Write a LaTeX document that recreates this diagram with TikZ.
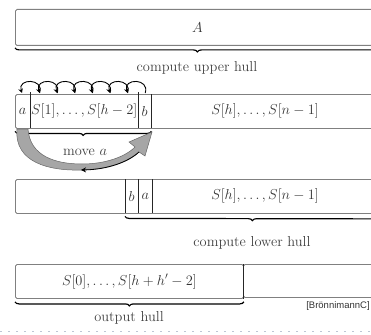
\documentclass[tikz,border=0pt]{standalone}
\usepackage{fontspec}
\newfontfamily\arialfont{Liberation Sans}
\usetikzlibrary{decorations.pathreplacing,arrows.meta}
\definecolor{dotgray}{RGB}{190,198,212}
\begin{document}
\begin{tikzpicture}[x=1pt,y=-1pt,
  box/.style={draw=black!50, line width=0.9pt, rounded corners=1.5pt, inner sep=0pt, anchor=north west, text=black!80},
  cell/.style={inner sep=0pt, anchor=north west, text=black!80},
  divider/.style={draw=black!85, line width=0.9pt},
  hullbrace/.style={decorate, decoration={brace, amplitude=4pt}, draw=black, line width=1.2pt},
  lbl/.style={text=black!75},
  shiftloop/.style={draw=black, line width=0.9pt, -{Stealth[length=4.5pt,width=4.5pt]}},
  font=\fontsize{14.4}{17}\selectfont]
\useasboundingbox (0,0) rectangle (371,334);
\clip (0,0) rectangle (371,334);

% box 1
\node[box, minimum width=364pt, minimum height=36pt] (A) at (15,9) {$A$};
\draw[hullbrace] ([yshift=-2pt]A.south east) -- ([yshift=-2pt]A.south west);
\node[lbl] (upper) at (197,68) {compute upper hull};

% box 2
\node[box, minimum width=364pt, minimum height=34pt] (B) at (15,94) {};
\node[cell, minimum width=15pt, minimum height=34pt] (ca) at (15,94) {$a$};
\node[cell, minimum width=108pt, minimum height=34pt] (cs) at (30,94) {$S[1],\ldots,S[h-2]$};
\node[cell, minimum width=13pt, minimum height=34pt] (cb) at (138,94) {$b$};
\node[cell, anchor=center] (srest) at (265,111) {$S[h],\ldots,S[n-1]$};
\draw[divider] ([yshift=2pt]ca.north east) -- (ca.south east);
\draw[divider] ([yshift=2pt]cs.north east) -- (cs.south east);
\draw[divider] (cb.north east) -- (cb.south east);
\draw[hullbrace] ([yshift=-3pt]cb.south east) -- ([yshift=-3pt]ca.south west);

% shift loops
\foreach \i in {0,...,7} \coordinate (p\i) at ({22+\i*17.6},93);
\foreach \i/\j in {0/1,1/2,2/3,3/4,4/5,5/6,6/7}
  \draw[shiftloop] (p\j) .. controls +(5,-15) and +(-5,-15) .. (p\i);

% move a arrow
\fill[black!35, draw=black!60, line width=0.5pt]
  (17,129) .. controls (14,163) and (50,171) .. (82,170)
  .. controls (110,169) and (130,161) .. (139,152)
  -- (145,156) -- (152,132) -- (129,142) -- (135,147)
  .. controls (125,157) and (105,164) .. (82,164)
  .. controls (55,164) and (30,156) .. (28,129) -- cycle;
\coordinate (mend) at (139,152);
\coordinate (mlow) at (81,170);
\draw[black, line width=0.8pt, -{Stealth[length=5pt,width=5pt]}] (mend) .. controls (128,162) and (108,169.5) .. (mlow);
\node[lbl] (move) at (85,152) {move $a$};

% box 3
\node[box, minimum width=364pt, minimum height=34pt] (C) at (15,179) {};
\node[cell, minimum width=13pt, minimum height=34pt] (cb2) at (125,179) {$b$};
\node[cell, minimum width=14pt, minimum height=34pt] (ca2) at (138,179) {$a$};
\node[cell, anchor=center] (srest2) at (265,196) {$S[h],\ldots,S[n-1]$};
\draw[divider] (cb2.north west) -- (cb2.south west);
\draw[divider] (cb2.north east) -- (cb2.south east);
\draw[divider] (ca2.north east) -- (ca2.south east);
\draw[hullbrace] ([yshift=-3pt]C.south east) -- ([yshift=-3pt]cb2.south west);
\node[lbl] (lower) at (252,243) {compute lower hull};

% box 4
\node[box, minimum width=136pt, minimum height=33pt] (E) at (243,264) {};
\node[box, minimum width=228pt, minimum height=34pt] (D) at (15,264) {$S[0],\ldots,S[h+h'-2]$};
\draw[divider] (D.north east) -- (D.south east);
\draw[hullbrace] ([yshift=-3pt]D.south east) -- ([yshift=-3pt]D.south west);
\node[lbl] (output) at (129,318) {output hull};
\node[text=black!80, font=\arialfont\fontsize{9.5}{11}\selectfont] (src) at (338,306) {[BrönnimannC]};

% faint dotted rule
\draw[dotgray, line width=1pt, dash pattern=on 2pt off 6pt] (0,331) -- (371,331);
\end{tikzpicture}
\end{document}
